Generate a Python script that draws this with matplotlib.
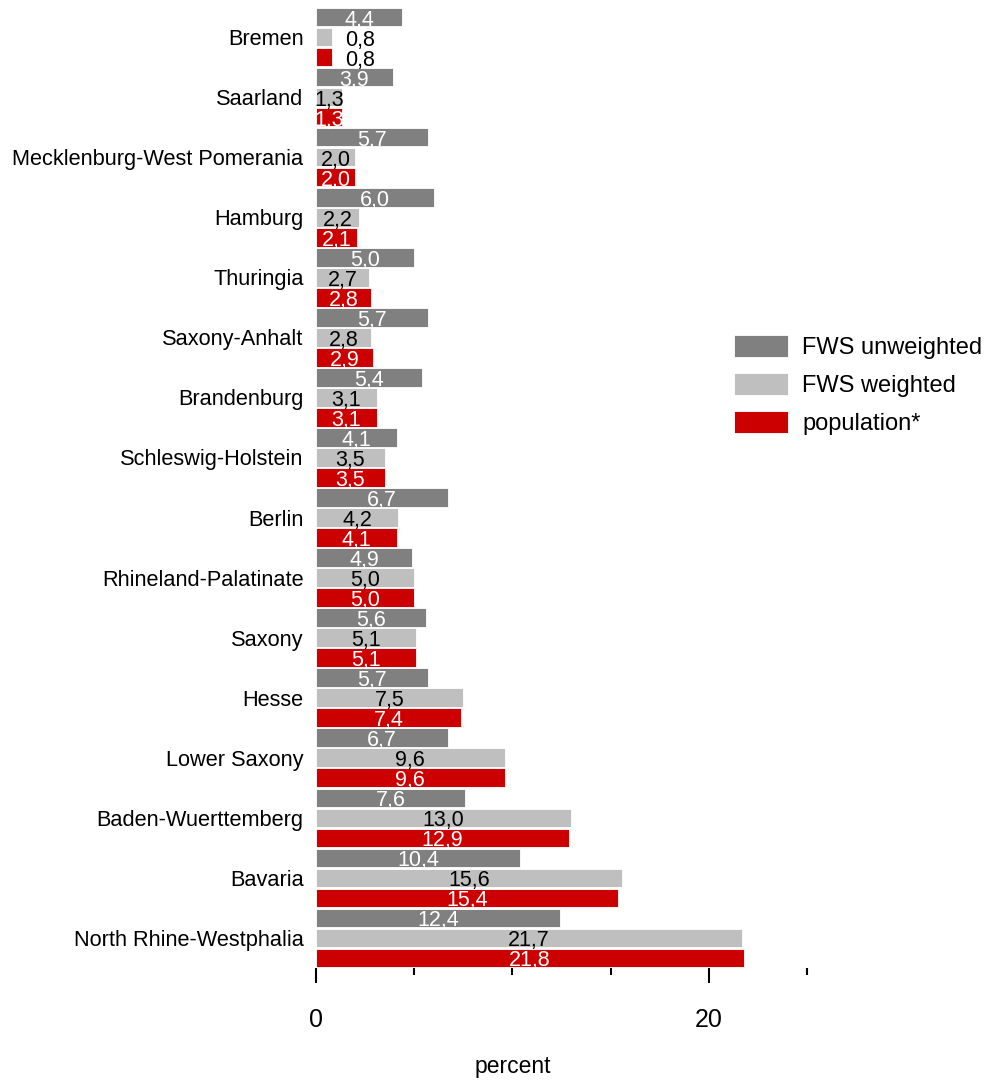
import numpy as np
import matplotlib.pyplot as plt
from matplotlib.ticker import FixedLocator, NullFormatter

plt.rcParams['font.family'] = ['Liberation Sans', 'DejaVu Sans']

states = ["Bremen", "Saarland", "Mecklenburg-West Pomerania", "Hamburg",
          "Thuringia", "Saxony-Anhalt", "Brandenburg", "Schleswig-Holstein",
          "Berlin", "Rhineland-Palatinate", "Saxony", "Hesse", "Lower Saxony",
          "Baden-Wuerttemberg", "Bavaria", "North Rhine-Westphalia"]
fws_unweighted = [4.4, 3.9, 5.7, 6.0, 5.0, 5.7, 5.4, 4.1, 6.7, 4.9, 5.6, 5.7,
                  6.7, 7.6, 10.4, 12.4]
fws_weighted = [0.8, 1.3, 2.0, 2.2, 2.7, 2.8, 3.1, 3.5, 4.2, 5.0, 5.1, 7.5,
                9.6, 13.0, 15.6, 21.7]
population = [0.8, 1.3, 2.0, 2.1, 2.8, 2.9, 3.1, 3.5, 4.1, 5.0, 5.1, 7.4,
              9.6, 12.9, 15.4, 21.8]

series = [
    ("FWS unweighted", fws_unweighted, "#808080", "white", -1/3),
    ("FWS weighted", fws_weighted, "#bfbfbf", "black", 0.0),
    ("population*", population, "#cc0000", "white", 1/3),
]

fig = plt.figure(figsize=(9.9, 10.82), dpi=100)
ax = fig.add_axes([316/990, 1 - 968/1082, 491/990, (968 - 7)/1082])

y = np.arange(len(states))
h = 0.31

for name, vals, color, tcolor, off in series:
    ax.barh(y + off, vals, height=h, color=color, edgecolor='white',
            linewidth=0.6, label=name)
    for yi, v in zip(y + off, vals):
        txt = f"{v:.1f}".replace(".", ",")
        if v < 1:
            ax.text(v + 0.7, yi + 0.05, txt, ha='left', va='center',
                    fontsize=15.5, color='black')
        else:
            ax.text(v / 2, yi + 0.05, txt, ha='center', va='center',
                    fontsize=15.5, color=tcolor)

ax.set_ylim(15.5, -0.5)
ax.set_xlim(0, 25)
ax.set_yticks(y)
ax.set_yticklabels(states, fontsize=15.7)
ax.tick_params(axis='y', length=0, pad=9)

ax.xaxis.set_major_locator(FixedLocator([0, 20]))
ax.xaxis.set_minor_locator(FixedLocator([5, 10, 15, 25]))
ax.xaxis.set_minor_formatter(NullFormatter())
ax.tick_params(axis='x', which='major', length=11, width=1.5, pad=18,
               labelsize=18)
ax.tick_params(axis='x', which='minor', length=5, width=1.5)
ax.set_xlabel("percent", fontsize=16.5, labelpad=16)
ax.xaxis.label.set_x(197/491)

for s in ax.spines.values():
    s.set_visible(False)

fig.legend(loc='upper left', bbox_to_anchor=(734/990, 1 - 335/1082),
           frameon=False, fontsize=17, handlelength=2.3, handleheight=1.05,
           handletextpad=0.6, labelspacing=0.6, borderpad=0,
           borderaxespad=0)

fig.savefig("out.png", dpi=100)
